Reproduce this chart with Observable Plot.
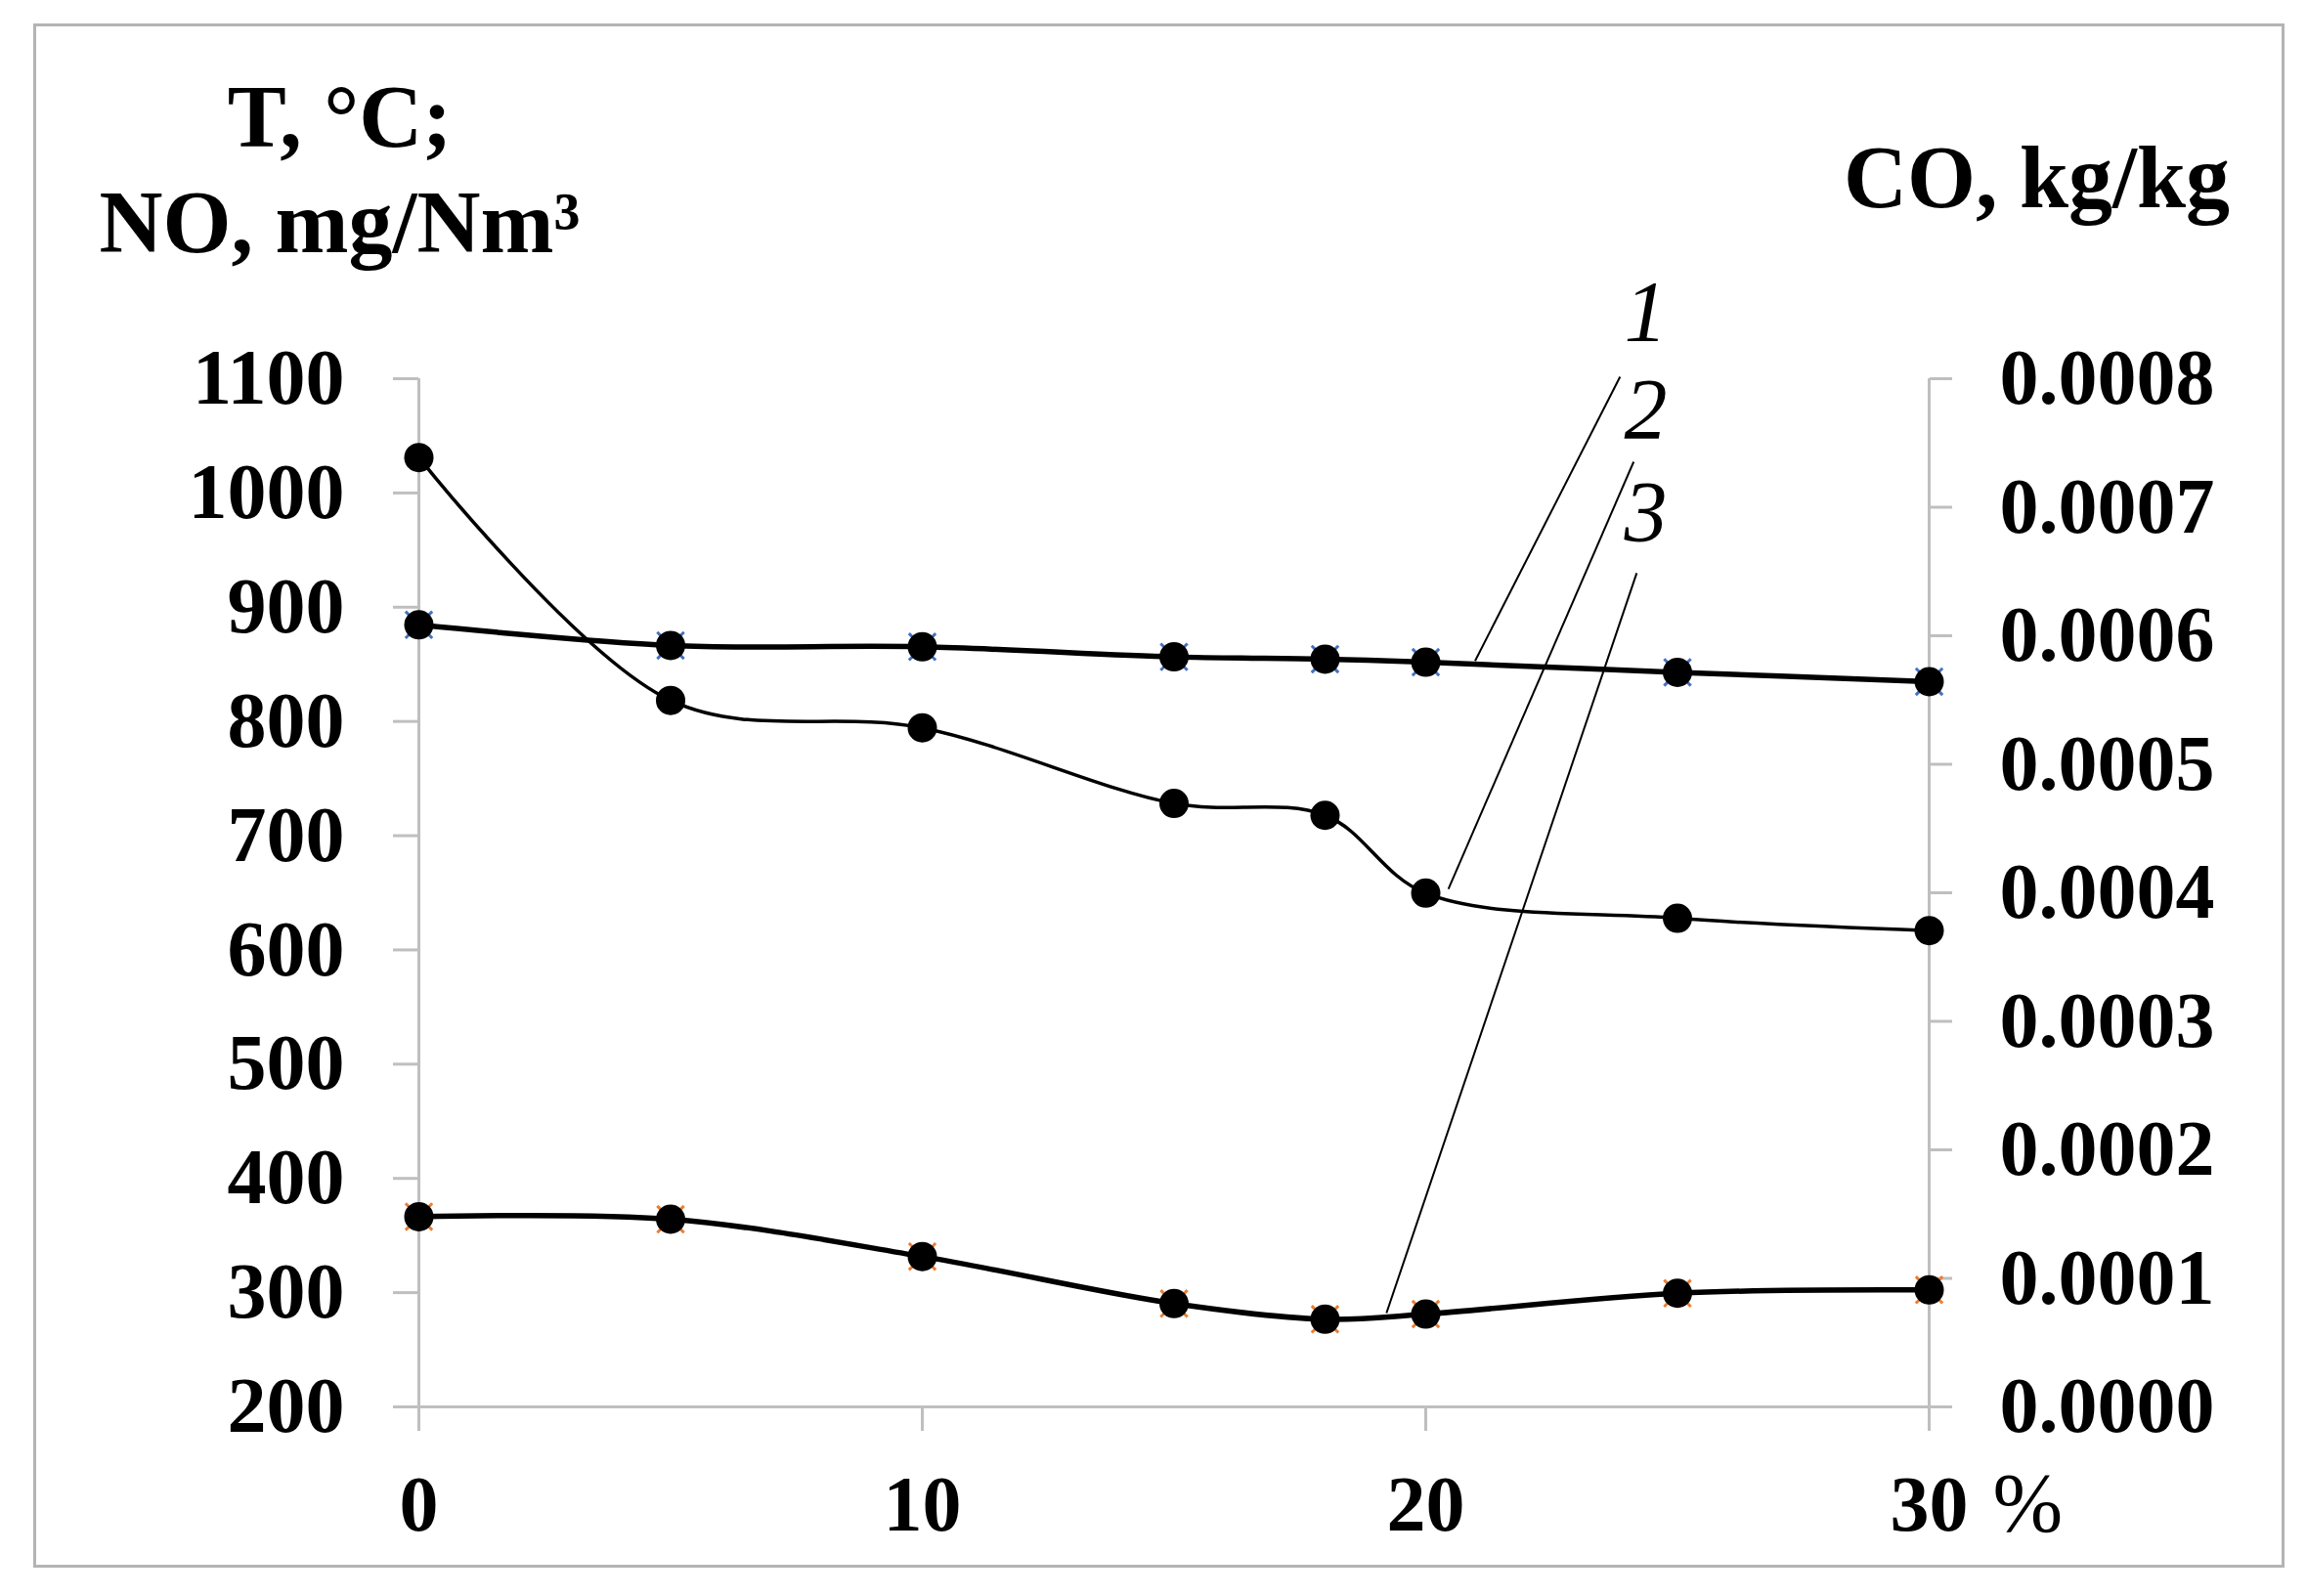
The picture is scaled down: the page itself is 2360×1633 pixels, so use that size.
<!DOCTYPE html>
<html><head><meta charset="utf-8">
<script src="https://cdn.jsdelivr.net/npm/d3@7"></script>
<script src="https://cdn.jsdelivr.net/npm/@observablehq/plot@0.6"></script>
<style>
html,body{margin:0;padding:0;background:#fff;}
#wrap{position:relative;width:2360px;height:1633px;}
#border{position:absolute;left:34px;top:24px;width:2303px;height:1580px;border:3px solid #b4b4b4;box-sizing:border-box;}
#chart{position:absolute;left:0;top:0;}
</style></head><body>
<div id="wrap"><div id="border"></div><div id="chart"></div></div>
<script>
// x: share, %
const percent = [0, 5, 10, 15, 18, 20, 25, 30];
// curve 1: T, °C (left axis)
const temperature = [884.6, 866.5, 865.3, 856.5, 854.5, 851.8, 843, 834.8];
// curve 2: NO, mg/Nm³ (left axis)
const noConc = [1031, 818.4, 794.4, 728.2, 717.8, 649.7, 627.7, 616.9];
// curve 3: CO, kg/kg (right axis)
const coConc = [0.000148, 0.000146, 0.000117, 0.0000804, 0.0000682, 0.0000722, 0.0000884, 0.000091];

const leftTicks = [200, 300, 400, 500, 600, 700, 800, 900, 1000, 1100];
const rightTicks = [0, 0.0001, 0.0002, 0.0003, 0.0004, 0.0005, 0.0006, 0.0007, 0.0008];
const xTicks = [0, 10, 20, 30];

// curve number labels and their leader lines (in data units of x and left y)
const curveNames = ["1", "2", "3"];
const curveLabelX = [24.37, 24.37, 24.37];
const curveLabelY = [1134, 1048, 958];
const leaderFromX = [23.86, 24.13, 24.19];
const leaderFromY = [1101.7, 1027.3, 929.8];
const leaderToX = [20.98, 20.45, 19.22];
const leaderToY = [853, 653.4, 282.1];

const leftMin = 200, leftMax = 1100, coMax = 0.0008;
const toLeft = v => leftMin + v / coMax * (leftMax - leftMin);
const fromLeft = d => (d - leftMin) * coMax / (leftMax - leftMin);

const rows = percent.map((p, i) => ({p, t: temperature[i], no: noConc[i], co: toLeft(coConc[i])}));
const labels = curveNames.map((n, i) => ({n, x: curveLabelX[i], y: curveLabelY[i]}));
const leaders = curveNames.map((n, i) => ({x1: leaderFromX[i], y1: leaderFromY[i], x2: leaderToX[i], y2: leaderToY[i]}));

const gray = "#bfbfbf";
const curve = "catmull-rom";
const plot = Plot.plot({
  width: 2360,
  height: 1633,
  marginLeft: 428,
  marginRight: 387,
  marginTop: 387,
  marginBottom: 194,
  style: {fontFamily: "'Liberation Serif', 'Times New Roman', serif", fontSize: "80px", fontWeight: "bold", background: "transparent", overflow: "visible"},
  x: {domain: [0, 30], label: null},
  y: {domain: [leftMin, leftMax], label: null},
  marks: [
    Plot.ruleX([0, 30], {stroke: gray, strokeWidth: 3}),
    Plot.ruleY([200], {stroke: gray, strokeWidth: 3}),
    Plot.axisY(leftTicks, {anchor: "left", tickSize: 26, tickPadding: 50, color: "black", stroke: gray, strokeWidth: 3, tickFormat: d => String(d), label: null}),
    Plot.axisY(rightTicks.map(toLeft), {anchor: "right", tickSize: 23, tickPadding: 49, color: "black", stroke: gray, strokeWidth: 3, tickFormat: d => fromLeft(d).toFixed(4), label: null}),
    Plot.axisX(xTicks, {anchor: "bottom", tickSize: 25, tickPadding: 45, color: "black", stroke: gray, strokeWidth: 3, tickFormat: d => String(d), label: null}),
    Plot.link(leaders, {x1: "x1", y1: "y1", x2: "x2", y2: "y2", stroke: "black", strokeWidth: 2}),
    Plot.line(rows, {x: "p", y: "t", curve, stroke: "black", strokeWidth: 5.5}),
    Plot.line(rows, {x: "p", y: "no", curve, stroke: "black", strokeWidth: 3.5}),
    Plot.line(rows, {x: "p", y: "co", curve, stroke: "black", strokeWidth: 5.5}),
    Plot.dot(rows, {x: "p", y: "t", symbol: "times", stroke: "#4472c4", strokeWidth: 3, r: 12.5}),
    Plot.dot(rows, {x: "p", y: "co", symbol: "times", stroke: "#ed7d31", strokeWidth: 3, r: 12.5}),
    Plot.dot(rows, {x: "p", y: "t", fill: "black", r: 15}),
    Plot.dot(rows, {x: "p", y: "no", fill: "black", r: 15}),
    Plot.dot(rows, {x: "p", y: "co", fill: "black", r: 15}),
    Plot.text(labels, {x: "x", y: "y", text: "n", fontStyle: "italic", fontWeight: "normal", fontSize: 88, textAnchor: "middle", lineAnchor: "bottom"}),
    Plot.text(["T, °C;\nNO, mg/Nm³"], {frameAnchor: "top-left", dx: -81, dy: -130, textAnchor: "middle", lineAnchor: "bottom", lineHeight: 1.2, fontSize: 90}),
    Plot.text(["CO, kg/kg"], {frameAnchor: "top-right", dx: 110, dy: -176, textAnchor: "middle", lineAnchor: "bottom", fontSize: 90}),
    Plot.text(["%"], {frameAnchor: "bottom-right", dx: 65, dy: 127, textAnchor: "start", lineAnchor: "bottom", fontWeight: "normal", fontSize: 86})
  ]
});
document.getElementById("chart").appendChild(plot);
</script>
</body></html>
